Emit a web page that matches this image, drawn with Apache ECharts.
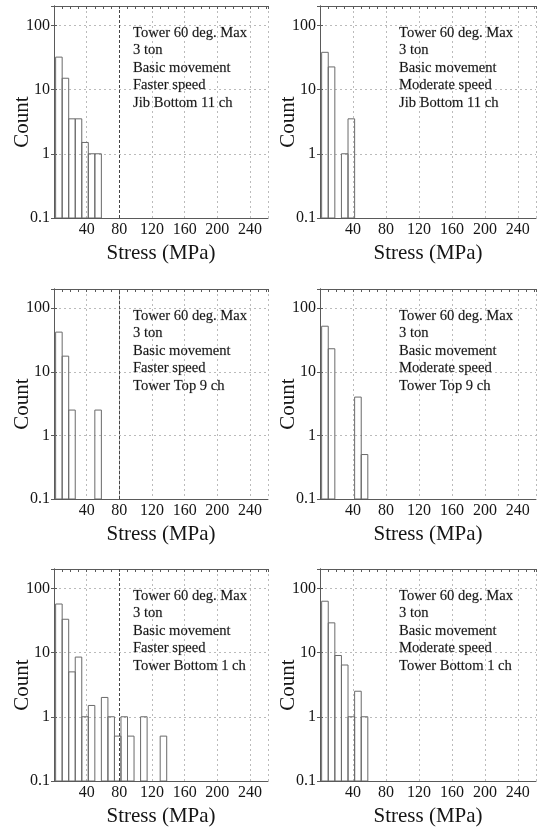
<!DOCTYPE html>
<html>
<head>
<meta charset="utf-8">
<script src="https://cdn.jsdelivr.net/npm/echarts@6/dist/echarts.min.js"></script>
<style>
  html, body { margin: 0; padding: 0; background: #fff; }
  #chart { width: 542px; height: 828px; }
</style>
</head>
<body>
<div id="chart"></div>
<script>
// histogram bins (MPa)
const binStart = 2;
const binWidth = 8;
const xMax = 262;
const yMin = 0.1;
const yMax = 200;

// counts per bin (0 = empty bin)
const jibFaster = [32, 15, 3.5, 3.5, 1.5, 1, 1];
const jibModerate = [38, 22.5, 0, 1, 3.5];
const topFaster = [42, 17.6, 2.5, 0, 0, 0, 2.5];
const topModerate = [52, 23, 0, 0, 0, 4, 0.5];
const bottomFaster = [57, 33, 5, 8.5, 1, 1.5, 0, 2, 1, 0.5, 1, 0.5, 0, 1, 0, 0, 0.5];
const bottomModerate = [63, 29, 9, 6.4, 1, 2.5, 1];

const headerLines = ['Tower 60 deg. Max', '3 ton', 'Basic movement'];
const speeds = ['Faster speed', 'Moderate speed'];
const channels = ['Jib Bottom 11 ch', 'Tower Top 9 ch', 'Tower Bottom 1 ch'];

const panelCounts = [jibFaster, jibModerate, topFaster, topModerate, bottomFaster, bottomModerate];

// layout
const colLeft = [54, 320];
const colWidth = [214, 216];
const rowTop = [6, 289, 569];
const rowHeight = [212, 210, 212];

const FONT = 'Liberation Serif';
const frameColor = '#5a5a5a';
const textColor = '#151515';
const gridLine = { show: true, lineStyle: { color: '#bbb', type: [2, 3], width: 1 } };

const myChart = echarts.init(document.getElementById('chart'));

const grid = [], xAxis = [], yAxis = [], series = [], title = [];

panelCounts.forEach((counts, i) => {
  const row = Math.floor(i / 2);
  const col = i % 2;

  grid.push({
    left: colLeft[col], top: rowTop[row], width: colWidth[col], height: rowHeight[row],
    containLabel: false, outerBoundsMode: 'none'
  });

  // bottom x axis
  xAxis.push({
    type: 'value', gridIndex: i, position: 'bottom', min: 0, max: xMax, interval: 40,
    name: 'Stress (MPa)', nameLocation: 'middle', nameGap: 25, nameMoveOverlap: false,
    nameTextStyle: { fontFamily: FONT, fontSize: 21, color: textColor },
    axisLine: { show: true, lineStyle: { color: frameColor } },
    axisTick: { show: false },
    axisLabel: { fontFamily: FONT, fontSize: 16, color: textColor, margin: 4, showMinLabel: false, showMaxLabel: false },
    splitLine: gridLine
  });
  // top x axis (frame + small ticks)
  xAxis.push({
    type: 'value', gridIndex: i, position: 'top', min: 0, max: xMax, interval: 10,
    axisLine: { show: true, lineStyle: { color: frameColor } },
    axisTick: { show: true, inside: true, length: 3, lineStyle: { color: frameColor } },
    axisLabel: { show: false },
    splitLine: { show: false }
  });

  // left y axis
  yAxis.push({
    type: 'log', logBase: 10, gridIndex: i, min: yMin, max: yMax,
    name: 'Count', nameLocation: 'middle', nameGap: 21, nameMoveOverlap: false,
    nameTextStyle: { fontFamily: FONT, fontSize: 21, color: textColor, padding: [0, 20, 0, 0] },
    axisLine: { show: true, lineStyle: { color: frameColor } },
    axisTick: { show: true, inside: true, length: 3, lineStyle: { color: frameColor } },
    axisLabel: {
      fontFamily: FONT, fontSize: 16, color: textColor, margin: 4, showMaxLabel: false,
      formatter: v => String(v)
    },
    splitLine: gridLine
  });
  // right y axis (frame)
  yAxis.push({
    type: 'log', logBase: 10, gridIndex: i, position: 'right', min: yMin, max: yMax,
    axisLine: { show: true, lineStyle: { color: frameColor } },
    axisTick: { show: true, inside: true, length: 3, lineStyle: { color: frameColor } },
    axisLabel: { show: false },
    splitLine: { show: false }
  });

  const data = counts
    .map((c, k) => [binStart + k * binWidth, binStart + (k + 1) * binWidth, c])
    .filter(d => d[2] > 0);

  const s = {
    type: 'custom',
    xAxisIndex: 2 * i,
    yAxisIndex: 2 * i,
    clip: true,
    silent: true,
    data: data,
    encode: { x: [0, 1], y: 2 },
    renderItem: (params, api) => {
      const p0 = api.coord([api.value(0), api.value(2)]);
      const p1 = api.coord([api.value(1), yMin]);
      return {
        type: 'rect',
        shape: { x: p0[0], y: p0[1], width: p1[0] - p0[0], height: p1[1] - p0[1] },
        style: { fill: 'none', stroke: '#6a6a6a', lineWidth: 1 }
      };
    }
  };
  if (col === 0) {
    s.markLine = {
      silent: true, symbol: 'none', label: { show: false },
      lineStyle: { color: '#444', type: [3, 2], width: 1 },
      data: [{ xAxis: 80 }]
    };
  }
  series.push(s);

  title.push({
    left: colLeft[col] + 79, top: rowTop[row] + 18, padding: 0,
    text: headerLines.concat([speeds[col], channels[row]]).join('\n'),
    textStyle: {
      fontFamily: FONT, fontSize: 14.6, fontWeight: 'normal', color: textColor, lineHeight: 17.5,
      textBorderColor: 'rgba(0,0,0,0.35)', textBorderWidth: 0.4
    }
  });
});

myChart.setOption({
  animation: false,
  backgroundColor: '#fff',
  title: title,
  grid: grid,
  xAxis: xAxis,
  yAxis: yAxis,
  series: series
});

window.addEventListener('resize', function () {
  myChart.resize();
});
</script>
</body>
</html>
